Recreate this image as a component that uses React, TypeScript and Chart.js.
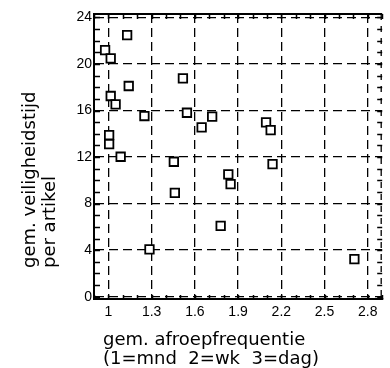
import React, { useEffect, useRef } from "react";
import { Chart, registerables } from "chart.js";

Chart.register(...registerables);

// gem. afroepfrequentie (x) and gem. veiligheidstijd (y) per artikel
const frequency = [
  1.13, 0.977, 1.016, 1.517, 1.141, 1.016, 1.05, 1.25, 1.545, 1.72, 1.647, 2.094,
  2.126, 1.005, 1.005, 1.085, 1.454, 2.139, 1.832, 1.848, 1.461, 1.779, 1.285, 2.707,
];
const safetyTime = [
  22.49, 21.2, 20.49, 18.77, 18.11, 17.25, 16.53, 15.53, 15.81, 15.47, 14.55, 14.99,
  14.32, 13.89, 13.12, 12.03, 11.6, 11.4, 10.51, 9.68, 8.93, 6.09, 4.06, 3.23,
];
const xTickValues = [1, 1.3, 1.6, 1.9, 2.2, 2.5, 2.8];
const xTickLabels = ["1", "1.3", "1.6", "1.9", "2.2", "2.5", "2.8"];
const yTickValues = [0, 4, 8, 12, 16, 20, 24];
const yTitleLines = ["gem. veiligheidstijd", "per artikel"];
const xTitleLines = ["gem. afroepfrequentie", "(1=mnd  2=wk  3=dag)"];

const TITLE_FONT = "'DejaVu Sans', sans-serif";
const TICK_FONT = "'Liberation Sans', sans-serif";

const framePlugin = {
  id: "frame",
  afterDraw(chart: any) {
    const { ctx, chartArea: a, scales } = chart;
    const xs = scales.x;
    const ys = scales.y;
    ctx.save();
    ctx.strokeStyle = "#000";
    ctx.fillStyle = "#000";
    // top border
    ctx.lineWidth = 2;
    ctx.beginPath();
    ctx.moveTo(a.left, a.top);
    ctx.lineTo(a.right, a.top);
    ctx.stroke();
    // right edge dashed
    ctx.lineWidth = 1.3;
    ctx.setLineDash([6, 6]);
    ctx.beginPath();
    ctx.moveTo(a.right - 1, a.top);
    ctx.lineTo(a.right - 1, a.bottom);
    ctx.stroke();
    ctx.setLineDash([]);
    // minor ticks on y
    ctx.lineWidth = 1.5;
    for (let v = 0; v <= 24; v++) {
      const py = Math.round(ys.getPixelForValue(v)) + 0.5;
      ctx.beginPath();
      ctx.moveTo(a.left, py);
      ctx.lineTo(a.left + 6, py);
      ctx.moveTo(a.right - 5, py);
      ctx.lineTo(a.right, py);
      ctx.stroke();
    }
    // minor ticks on x
    for (let i = 9; i <= 29; i++) {
      const px = Math.round(xs.getPixelForValue(i / 10)) + 0.5;
      ctx.beginPath();
      ctx.moveTo(px, a.bottom);
      ctx.lineTo(px, a.bottom - 4);
      ctx.moveTo(px, a.top);
      ctx.lineTo(px, a.top + 5);
      ctx.stroke();
    }
    // x title
    ctx.font = `18px ${TITLE_FONT}`;
    ctx.textAlign = "left";
    ctx.textBaseline = "alphabetic";
    ctx.fillText(xTitleLines[0], 103, 345);
    ctx.fillText(xTitleLines[1], 103, 364);
    // y title
    ctx.save();
    ctx.translate(35, 268);
    ctx.rotate(-Math.PI / 2);
    ctx.font = `18px ${TITLE_FONT}`;
    ctx.fillText(yTitleLines[0], 0, 0);
    ctx.fillText(yTitleLines[1], 0, 20);
    ctx.restore();
    ctx.restore();
  },
};

export default function App() {
  const ref = useRef<HTMLCanvasElement | null>(null);
  useEffect(() => {
    if (!ref.current) return;
    const points = frequency.map((f, i) => ({ x: f, y: safetyTime[i] }));
    const chart = new Chart(ref.current, {
      type: "scatter",
      data: {
        datasets: [
          {
            data: points,
            pointStyle: "rect",
            pointRadius: 6,
            pointBorderWidth: 1.8,
            pointBorderColor: "#000",
            pointBackgroundColor: "#fff",
            borderColor: "#000",
            backgroundColor: "#fff",
          },
        ],
      },
      options: {
        animation: false,
        responsive: false,
        devicePixelRatio: 1,
        layout: { padding: { top: 14, right: 3, left: 0, bottom: 0 } },
        plugins: { legend: { display: false }, tooltip: { enabled: false } },
        scales: {
          x: {
            type: "linear",
            min: 0.9,
            max: 2.9,
            afterBuildTicks: (s: any) => {
              s.ticks = xTickValues.map((v) => ({ value: v }));
            },
            afterFit: (s: any) => {
              s.height = 69;
            },
            ticks: {
              color: "#000",
              font: { family: TICK_FONT, size: 14 },
              padding: 5,
              callback: (v: any) => {
                const i = xTickValues.indexOf(Number(v));
                return i >= 0 ? xTickLabels[i] : "";
              },
            },
            grid: { color: "#000", lineWidth: 1.3, drawTicks: false },
            border: { display: true, color: "#000", width: 2, dash: [9, 5] },
          },
          y: {
            type: "linear",
            min: -0.2,
            max: 24.3,
            afterBuildTicks: (s: any) => {
              s.ticks = yTickValues.map((v) => ({ value: v }));
            },
            afterFit: (s: any) => {
              s.width = 94;
            },
            ticks: {
              color: "#000",
              font: { family: TICK_FONT, size: 14 },
              padding: 2,
            },
            grid: { color: "#000", lineWidth: 1.3, drawTicks: false },
            border: { display: true, color: "#000", width: 2, dash: [9, 5] },
          },
        },
      },
      plugins: [framePlugin],
    });
    return () => chart.destroy();
  }, []);
  return (
    <div style={{ position: "absolute", left: 0, top: 0, width: 390, height: 368, background: "#fff" }}>
      <canvas ref={ref} width={390} height={368} />
    </div>
  );
}
